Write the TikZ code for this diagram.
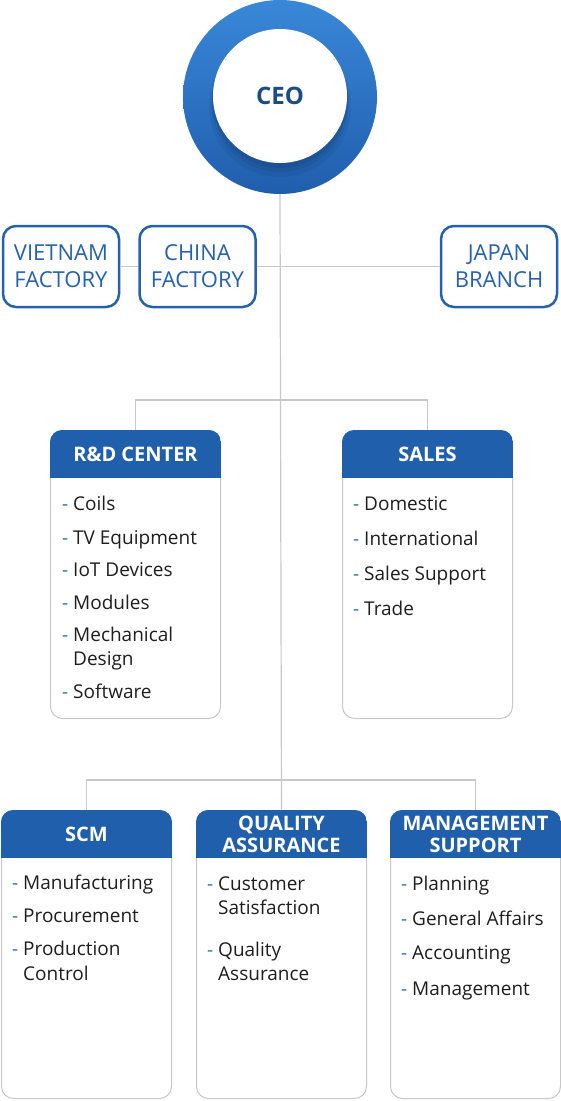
\documentclass[tikz,border=0pt]{standalone}
\usepackage{fontspec}
\setmainfont{Open Sans}
\usetikzlibrary{positioning}

\definecolor{ringtop}{HTML}{3A87D8}
\definecolor{ringbot}{HTML}{1F5EAD}
\definecolor{ceotext}{HTML}{1A4C85}
\definecolor{hdrblue}{HTML}{1F5FAB}
\definecolor{siteblue}{HTML}{2562AE}
\definecolor{dashblue}{HTML}{2F6CC0}
\definecolor{linegray}{HTML}{C8C8C8}
\definecolor{itemtext}{HTML}{1E1E1E}

\newcommand{\itemdash}{\llap{\textcolor{dashblue}{-}\hspace{5pt}}}

\tikzset{
  link/.style={draw=linegray, line width=1.2pt},
  sitebox/.style={draw=siteblue, line width=2.5pt, fill=white, rounded corners=13pt,
    minimum width=116pt, minimum height=81pt, inner sep=0pt, align=center,
    text=siteblue, font=\fontsize{22}{27}\selectfont},
  deptbox/.style={draw=linegray, line width=1pt, fill=white, rounded corners=12pt,
    minimum width=170pt, minimum height=288pt, anchor=north west, inner sep=0pt},
  depthead/.style={text=white, inner sep=0pt, align=center,
    font=\bfseries\fontsize{20}{22}\selectfont},
  item/.style={anchor=base west, inner sep=0pt, align=left, text=itemtext,
    font=\fontsize{19}{24}\selectfont},
}

\begin{document}
\begin{tikzpicture}[x=1pt,y=-1pt]
\useasboundingbox (0,0) rectangle (560,1101);

% CEO ring
\node[circle, minimum size=194pt, inner sep=0pt, top color=ringtop, bottom color=ringbot] (ceoring) at (280,97) {};
\fill[black, opacity=0.05] (280,106) circle (71pt);
\fill[black, opacity=0.06] (280,103) circle (69pt);
\fill[black, opacity=0.07] (280,100) circle (68pt);
\node[circle, minimum size=134pt, inner sep=0pt, fill=white, text=ceotext,
  font=\bfseries\fontsize{24}{24}\selectfont] (ceo) at (280,96) {CEO};

% factories and branch
\node[sitebox] (vietnam) at (61,266.5) {VIETNAM\\FACTORY};
\node[sitebox] (china) at (197.5,266.5) {CHINA\\FACTORY};
\node[sitebox] (japan) at (499,266.5) {JAPAN\\BRANCH};

% departments
\node[deptbox] (rdbox) at (50,430) {};
\node[deptbox] (salesbox) at (342,430) {};
\node[deptbox] (scmbox) at (1,810) {};
\node[deptbox] (qabox) at (196,810) {};
\node[deptbox] (mgmtbox) at (390,810) {};

\begin{scope}
\clip[rounded corners=12pt] (rdbox.south west) rectangle (rdbox.north east);
\fill[hdrblue] (rdbox.north west) rectangle ([yshift=-48pt]rdbox.north east);
\end{scope}
\begin{scope}
\clip[rounded corners=12pt] (salesbox.south west) rectangle (salesbox.north east);
\fill[hdrblue] (salesbox.north west) rectangle ([yshift=-48pt]salesbox.north east);
\end{scope}
\begin{scope}
\clip[rounded corners=12pt] (scmbox.south west) rectangle (scmbox.north east);
\fill[hdrblue] (scmbox.north west) rectangle ([yshift=-48pt]scmbox.north east);
\end{scope}
\begin{scope}
\clip[rounded corners=12pt] (qabox.south west) rectangle (qabox.north east);
\fill[hdrblue] (qabox.north west) rectangle ([yshift=-48pt]qabox.north east);
\end{scope}
\begin{scope}
\clip[rounded corners=12pt] (mgmtbox.south west) rectangle (mgmtbox.north east);
\fill[hdrblue] (mgmtbox.north west) rectangle ([yshift=-48pt]mgmtbox.north east);
\end{scope}

\node[depthead] (rd) at ([yshift=-24pt]rdbox.north) {R\&D CENTER};
\node[depthead] (sales) at ([yshift=-24pt]salesbox.north) {SALES};
\node[depthead] (scm) at ([yshift=-24pt]scmbox.north) {SCM};
\node[depthead] (qa) at ([yshift=-24pt]qabox.north) {QUALITY\\ASSURANCE};
\node[depthead] (mgmt) at ([yshift=-24pt]mgmtbox.north) {MANAGEMENT\\SUPPORT};

% items (at their baselines)
\node[item] (rd1) at (73,510) {\itemdash Coils};
\node[item] (rd2) at (73,544) {\itemdash TV Equipment};
\node[item] (rd3) at (73,576) {\itemdash IoT Devices};
\node[item] (rd4) at (73,609) {\itemdash Modules};
\node[item] (rd5) at (73,665) {\itemdash Mechanical\\Design};
\node[item] (rd6) at (73,698) {\itemdash Software};

\node[item] (sales1) at (364,510) {\itemdash Domestic};
\node[item] (sales2) at (364,545) {\itemdash International};
\node[item] (sales3) at (364,580) {\itemdash Sales Support};
\node[item] (sales4) at (364,615) {\itemdash Trade};

\node[item] (scm1) at (23,889) {\itemdash Manufacturing};
\node[item] (scm2) at (23,922) {\itemdash Procurement};
\node[item] (scm3) at (23,980) {\itemdash Production\\[1pt]Control};

\node[item] (qa1) at (218,914) {\itemdash Customer\\Satisfaction};
\node[item] (qa2) at (218,980) {\itemdash Quality\\Assurance};

\node[item] (mgmt1) at (412,890) {\itemdash Planning};
\node[item] (mgmt2) at (412,925) {\itemdash General Affairs};
\node[item] (mgmt3) at (412,959) {\itemdash Accounting};
\node[item] (mgmt4) at (412,995) {\itemdash Management};

% connectors
\draw[link] (ceoring.south) -- (qabox.north);
\draw[link] (vietnam.east) -- (china.west);
\draw[link] (china.east) -- (japan.west);
\draw[link] (rdbox.north) -- ++(0,-30) -| (salesbox.north);
\draw[link] (scmbox.north) -- ++(0,-30) -| (mgmtbox.north);
\end{tikzpicture}
\end{document}
